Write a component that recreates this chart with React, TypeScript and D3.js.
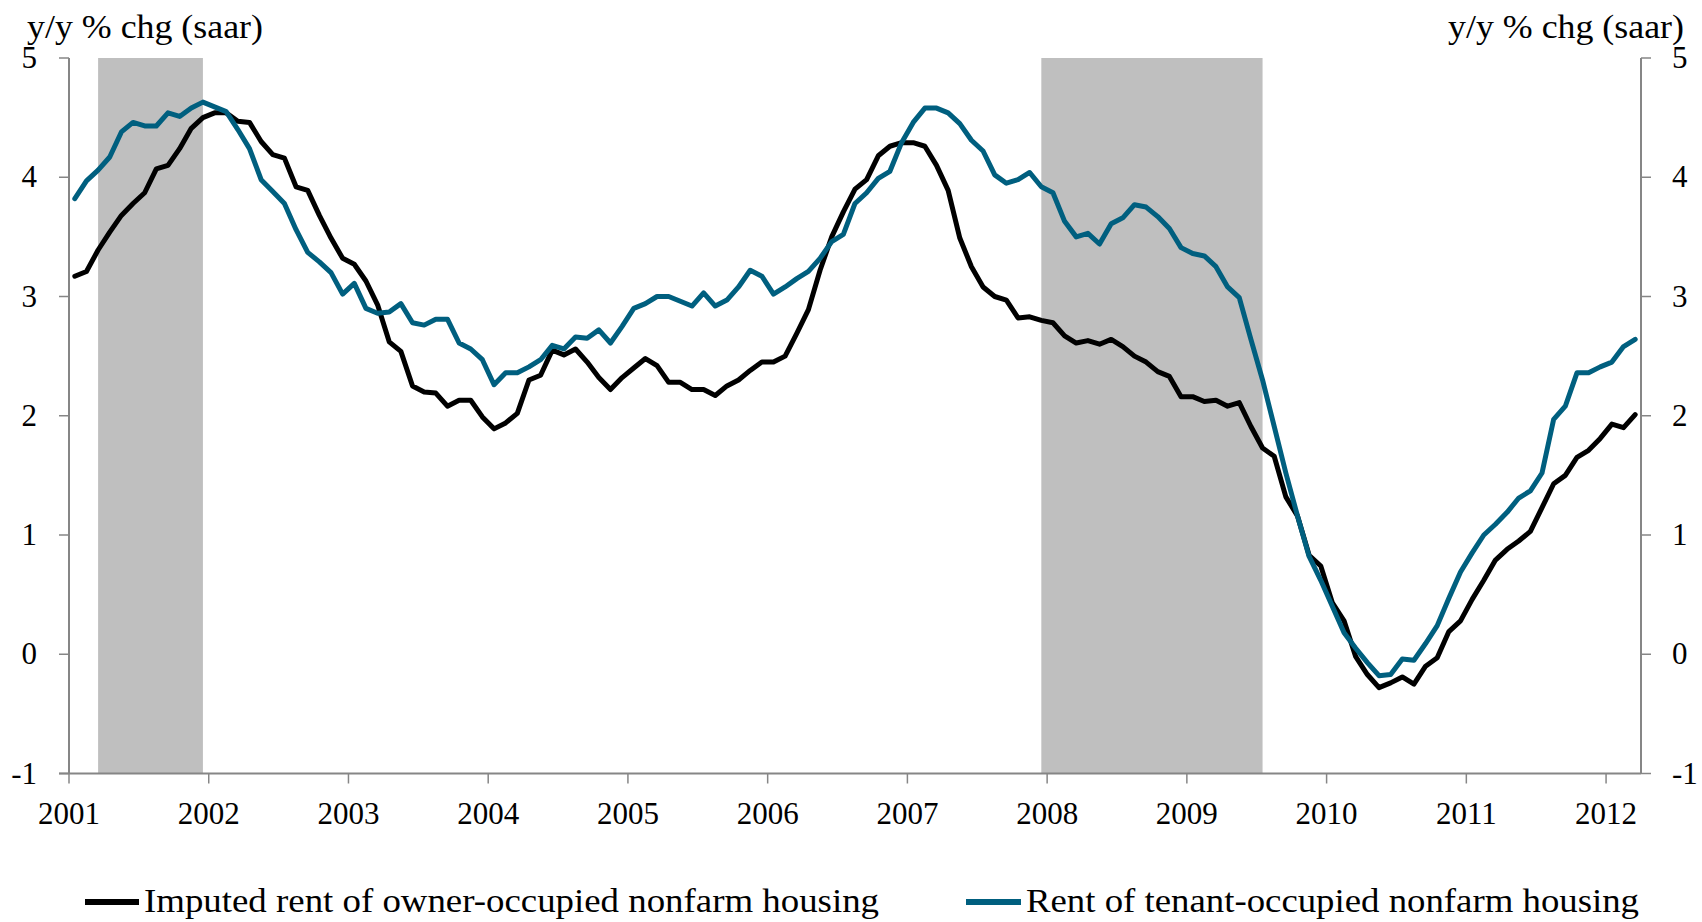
import React from 'react';
import * as d3 from 'd3';

// monthly, Jan 2001 .. Mar 2012, y/y % chg
const ownerRent = [
  3.17, 3.21, 3.39, 3.54, 3.68, 3.78, 3.87, 4.07, 4.10, 4.24, 4.41, 4.50,
  4.54, 4.54, 4.47, 4.46, 4.30, 4.19, 4.16, 3.92, 3.89, 3.68, 3.49, 3.32,
  3.27, 3.13, 2.93, 2.62, 2.54, 2.25, 2.20, 2.19, 2.08, 2.13, 2.13, 1.99,
  1.89, 1.94, 2.02, 2.30, 2.34, 2.55, 2.51, 2.56, 2.45, 2.32, 2.22, 2.32,
  2.40, 2.48, 2.42, 2.28, 2.28, 2.22, 2.22, 2.17, 2.25, 2.30, 2.38, 2.45,
  2.45, 2.50, 2.69, 2.89, 3.22, 3.50, 3.71, 3.90, 3.98, 4.18, 4.26, 4.29,
  4.29, 4.26, 4.10, 3.89, 3.49, 3.25, 3.08, 3.00, 2.97, 2.82, 2.83, 2.80,
  2.78, 2.67, 2.61, 2.63, 2.60, 2.64, 2.58, 2.50, 2.45, 2.37, 2.33, 2.16,
  2.16, 2.12, 2.13, 2.08, 2.11, 1.91, 1.73, 1.66, 1.32, 1.16, 0.83, 0.74,
  0.43, 0.28, -0.02, -0.17, -0.28, -0.24, -0.19, -0.25, -0.10, -0.03, 0.19, 0.28,
  0.46, 0.62, 0.79, 0.88, 0.95, 1.03, 1.23, 1.43, 1.50, 1.65, 1.71, 1.81,
  1.93, 1.90, 2.01,
];

const tenantRent = [
  3.82, 3.97, 4.06, 4.17, 4.38, 4.46, 4.43, 4.43, 4.54, 4.51, 4.58, 4.63,
  4.59, 4.55, 4.40, 4.24, 3.98, 3.88, 3.78, 3.56, 3.37, 3.29, 3.20, 3.02,
  3.11, 2.90, 2.86, 2.87, 2.94, 2.78, 2.76, 2.81, 2.81, 2.61, 2.56, 2.47,
  2.26, 2.36, 2.36, 2.41, 2.47, 2.59, 2.56, 2.66, 2.65, 2.72, 2.61, 2.75,
  2.90, 2.94, 3.00, 3.00, 2.96, 2.92, 3.03, 2.92, 2.97, 3.08, 3.22, 3.17,
  3.02, 3.08, 3.15, 3.21, 3.32, 3.46, 3.52, 3.78, 3.87, 3.99, 4.05, 4.29,
  4.46, 4.58, 4.58, 4.54, 4.45, 4.31, 4.22, 4.02, 3.95, 3.98, 4.04, 3.92,
  3.87, 3.63, 3.50, 3.53, 3.44, 3.61, 3.66, 3.77, 3.75, 3.67, 3.57, 3.41,
  3.36, 3.34, 3.25, 3.08, 2.99, 2.64, 2.30, 1.91, 1.52, 1.16, 0.82, 0.62,
  0.40, 0.18, 0.05, -0.07, -0.18, -0.17, -0.04, -0.05, 0.09, 0.24, 0.47, 0.69,
  0.85, 1.00, 1.09, 1.19, 1.31, 1.37, 1.52, 1.97, 2.08, 2.36, 2.36, 2.41,
  2.45, 2.58, 2.64,
];

const startYear = 2001;
const yearTicks = [2001, 2002, 2003, 2004, 2005, 2006, 2007, 2008, 2009, 2010, 2011, 2012];
const valueTicks = [-1, 0, 1, 2, 3, 4, 5];
// NBER recessions [start, end] as year-month
const recessions = [
  ['2001-03', '2001-11'],
  ['2007-12', '2009-06'],
];

const seriesNames = [
  'Imputed rent of owner-occupied nonfarm housing',
  'Rent of tenant-occupied nonfarm housing',
];
const unitLabel = 'y/y % chg (saar)';

const W = 1702;
const H = 922;
const FONT = 'Liberation Serif, DejaVu Serif, serif';
const AXIS = '#868686';
const BLUE = '#005f7f';

const monthIndex = (ym: string) => {
  const [y, m] = ym.split('-').map(Number);
  return (y - startYear) * 12 + (m - 1);
};

export default function App() {
  const x = d3.scaleLinear().domain([0, 135]).range([69, 1641]);
  const y = d3.scaleLinear().domain([-1, 5]).range([773.5, 58]);

  const line = d3
    .line<number>()
    .x((_, i) => x(i + 0.5))
    .y((d) => y(d));

  const left = x.range()[0];
  const right = x.range()[1];
  const bottom = y(-1);
  const top = y(5);

  return (
    <svg
      width={W}
      height={H}
      style={{ position: 'absolute', left: 0, top: 0, display: 'block', background: '#fff', fontFamily: FONT }}
    >
      <rect width={W} height={H} fill="#fff" />

      {recessions.map(([s, e]) => (
        <rect
          key={s}
          x={x(monthIndex(s) + 0.5)}
          y={top}
          width={x(monthIndex(e) + 1.5) - x(monthIndex(s) + 0.5)}
          height={bottom - top}
          fill="#bfbfbf"
        />
      ))}

      {/* axes */}
      <line x1={left} x2={left} y1={top} y2={bottom} stroke={AXIS} strokeWidth={2} />
      <line x1={right} x2={right} y1={top} y2={bottom} stroke={AXIS} strokeWidth={2} />
      <line x1={left - 10} x2={right} y1={bottom} y2={bottom} stroke={AXIS} strokeWidth={2} />

      {valueTicks.map((v) => (
        <g key={v}>
          <line x1={left - 10} x2={left} y1={y(v)} y2={y(v)} stroke={AXIS} strokeWidth={1.5} />
          <line x1={right} x2={right + 10} y1={y(v)} y2={y(v)} stroke={AXIS} strokeWidth={1.5} />
          <text x={37} y={y(v) + 10} fontSize={31} textAnchor="end" fill="#000">
            {v}
          </text>
          <text x={1672} y={y(v) + 10} fontSize={31} textAnchor="start" fill="#000">
            {v}
          </text>
        </g>
      ))}

      {yearTicks.map((yr) => {
        const xi = x((yr - startYear) * 12);
        return (
          <g key={yr}>
            <line x1={xi} x2={xi} y1={bottom} y2={bottom + 10} stroke={AXIS} strokeWidth={1.5} />
            <text x={xi} y={824} fontSize={31} textAnchor="middle" fill="#000">
              {yr}
            </text>
          </g>
        );
      })}

      <text x={27} y={38} fontSize={33} textLength={236} lengthAdjust="spacingAndGlyphs" fill="#000">
        {unitLabel}
      </text>
      <text x={1448} y={38} fontSize={33} textLength={236} lengthAdjust="spacingAndGlyphs" fill="#000">
        {unitLabel}
      </text>

      {/* series */}
      <path d={line(ownerRent) || ''} fill="none" stroke="#000" strokeWidth={5} strokeLinejoin="round" strokeLinecap="round" />
      <path d={line(tenantRent) || ''} fill="none" stroke={BLUE} strokeWidth={5} strokeLinejoin="round" strokeLinecap="round" />

      {/* legend */}
      <line x1={85} x2={139} y1={902} y2={902} stroke="#000" strokeWidth={6} />
      <text x={144} y={912} fontSize={34} textLength={735} lengthAdjust="spacingAndGlyphs" fill="#000">
        {seriesNames[0]}
      </text>
      <line x1={966} x2={1021} y1={902} y2={902} stroke={BLUE} strokeWidth={6} />
      <text x={1026} y={912} fontSize={34} textLength={613} lengthAdjust="spacingAndGlyphs" fill="#000">
        {seriesNames[1]}
      </text>
    </svg>
  );
}
